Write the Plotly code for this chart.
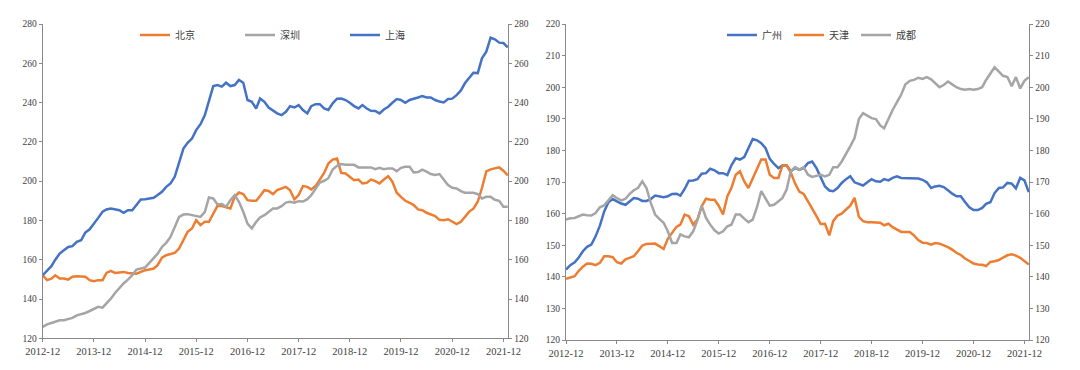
import pandas as pd
import plotly.graph_objects as go

# ---------------- data ----------------
months = pd.date_range("2012-12-01", periods=110, freq="MS")
tick_labels = ["2012-12", "2013-12", "2014-12", "2015-12", "2016-12",
               "2017-12", "2018-12", "2019-12", "2020-12", "2021-12"]

beijing = [152.1, 149.6, 150.4, 152.1, 150.4, 150.4, 149.9, 151.3, 151.6, 151.6,
           151.3, 149.6, 149.1, 149.6, 149.6, 153.3, 154.3, 153.3, 153.5, 153.8,
           153.3, 152.9, 152.9, 153.8, 154.6, 155.0, 155.5, 157.2, 161.1, 162.3,
           162.8, 163.5, 165.7, 169.9, 174.2, 175.9, 180.1, 177.6, 179.3, 179.3,
           183.2, 187.4, 187.3, 186.9, 186.1, 192.0, 194.2, 193.4, 190.3, 190.0,
           190.0, 192.4, 195.4, 195.0, 193.4, 195.4, 196.3, 197.1, 195.4, 190.7,
           192.9, 197.5, 197.1, 195.8, 197.5, 200.5, 204.2, 209.0, 211.0, 211.5,
           204.2, 203.9, 202.2, 200.5, 200.8, 198.8, 199.2, 200.8, 200.0, 198.8,
           200.8, 202.5, 199.7, 194.1, 192.0, 190.0, 189.0, 187.8, 185.6, 185.2,
           183.9, 183.2, 182.2, 180.3, 180.1, 180.6, 179.5, 178.1, 179.3, 181.5,
           184.5, 186.0, 189.5, 196.5, 205.0, 206.0, 206.5, 207.0, 205.3, 203.0]

shenzhen = [125.8, 127.1, 127.8, 128.3, 129.2, 129.2, 130.0, 130.4, 131.7, 132.2,
            132.9, 133.9, 135.1, 136.0, 135.6, 137.7, 140.2, 143.1, 145.8, 147.9,
            149.9, 152.1, 155.0, 155.5, 156.0, 158.4, 160.6, 163.1, 166.5, 168.6,
            171.6, 176.4, 181.8, 183.0, 183.2, 182.7, 182.2, 181.8, 184.4, 191.7,
            191.2, 188.1, 188.3, 186.9, 190.3, 192.9, 189.5, 184.4, 178.4, 175.9,
            179.3, 181.5, 182.7, 184.4, 186.1, 186.1, 187.3, 189.1, 189.5, 189.0,
            189.8, 189.6, 190.8, 192.9, 196.3, 199.3, 200.2, 201.5, 205.9, 207.8,
            208.7, 208.3, 208.3, 208.3, 207.0, 207.0, 207.0, 207.0, 206.1, 206.8,
            206.1, 206.5, 206.5, 205.1, 206.8, 207.3, 207.3, 204.4, 204.6, 205.9,
            204.8, 203.6, 203.1, 203.6, 200.8, 198.0, 196.6, 196.3, 194.9, 194.1,
            194.1, 194.1, 193.4, 191.2, 192.0, 192.0, 190.5, 190.0, 187.0, 187.0]

shanghai = [152.1, 154.3, 156.7, 160.0, 163.1, 164.8, 166.5, 166.9, 169.1, 169.9,
            173.8, 175.5, 178.1, 181.3, 184.4, 185.6, 186.1, 185.6, 185.2, 183.9,
            185.2, 185.2, 187.8, 190.7, 190.8, 191.2, 191.5, 192.9, 194.6, 197.1,
            198.8, 202.2, 209.0, 216.6, 219.5, 221.7, 226.0, 229.0, 233.6, 240.4,
            248.4, 248.9, 248.1, 250.1, 248.4, 248.9, 251.5, 250.1, 241.3, 240.4,
            237.0, 242.1, 240.4, 237.5, 235.8, 234.5, 233.6, 235.3, 238.2, 237.5,
            238.7, 236.2, 234.5, 238.2, 239.2, 239.2, 237.0, 236.2, 239.6, 242.0,
            242.1, 241.3, 239.9, 238.2, 237.0, 238.7, 237.0, 235.8, 235.7, 234.5,
            236.5, 237.9, 239.9, 241.8, 241.3, 239.9, 241.3, 241.8, 242.6, 243.3,
            242.6, 242.6, 241.3, 240.5, 240.1, 241.8, 242.0, 243.8, 246.2, 249.8,
            252.3, 255.2, 255.0, 262.5, 265.9, 273.0, 272.2, 270.5, 270.3, 268.1]

guangzhou = [142.3, 143.7, 144.6, 146.0, 148.1, 149.5, 150.2, 152.8, 156.2, 160.7,
             163.6, 164.6, 163.9, 163.2, 162.8, 163.7, 164.9, 164.7, 164.0, 164.0,
             164.6, 165.7, 165.5, 165.2, 165.5, 166.2, 166.3, 165.7, 167.8, 170.4,
             170.5, 170.9, 172.6, 172.8, 174.2, 173.7, 172.8, 172.8, 172.2, 175.3,
             177.5, 177.1, 177.9, 180.7, 183.6, 183.2, 182.3, 180.7, 177.3, 175.7,
             174.4, 175.2, 175.2, 173.4, 174.4, 173.9, 174.4, 176.0, 176.5, 174.4,
             171.3, 168.6, 167.3, 167.1, 168.1, 169.7, 170.9, 171.8, 169.9, 169.4,
             168.9, 169.9, 170.9, 170.2, 170.1, 170.9, 170.5, 171.3, 171.8, 171.3,
             171.2, 171.1, 171.2, 171.1, 170.7, 169.9, 168.1, 168.6, 168.8, 168.4,
             167.4, 166.3, 165.5, 165.5, 163.7, 162.0, 161.1, 161.1, 161.8, 163.1,
             163.6, 166.5, 168.1, 168.3, 169.7, 169.5, 168.0, 171.3, 170.5, 166.8]

tianjin = [139.4, 139.7, 140.2, 141.8, 143.2, 144.2, 144.1, 143.7, 144.4, 146.5,
           146.5, 146.2, 144.6, 144.2, 145.5, 146.0, 146.5, 148.1, 149.9, 150.4,
           150.5, 150.5, 149.7, 148.8, 152.0, 153.9, 155.8, 156.5, 159.7, 159.2,
           156.5, 158.1, 162.3, 164.7, 164.4, 164.4, 162.5, 159.7, 165.5, 168.1,
           172.3, 173.4, 170.2, 168.1, 171.1, 173.7, 177.1, 177.1, 172.3, 171.3,
           171.3, 175.2, 175.3, 173.0, 169.5, 167.0, 166.2, 163.9, 161.8, 159.2,
           156.7, 156.8, 153.1, 157.6, 159.4, 160.0, 161.3, 162.5, 165.0, 159.0,
           157.6, 157.3, 157.3, 157.3, 157.1, 156.3, 156.8, 155.7, 154.9, 154.2,
           154.2, 154.2, 153.1, 151.6, 150.8, 150.7, 150.2, 150.7, 150.5, 150.0,
           149.4, 148.6, 147.6, 146.9, 145.8, 145.0, 144.2, 143.9, 143.8, 143.4,
           144.7, 144.9, 145.3, 146.1, 146.8, 147.1, 146.7, 146.0, 144.9, 143.9]

chengdu = [158.1, 158.5, 158.6, 159.2, 159.7, 159.5, 159.4, 160.2, 162.0, 162.6,
           164.1, 165.8, 164.9, 164.2, 164.7, 166.2, 167.4, 168.1, 170.2, 168.1,
           163.4, 159.7, 158.3, 157.1, 154.4, 150.7, 150.7, 153.4, 152.8, 152.5,
           154.4, 157.9, 162.5, 158.6, 156.5, 154.7, 153.7, 154.4, 156.0, 156.5,
           159.7, 159.7, 158.4, 157.3, 158.1, 162.1, 167.1, 164.9, 162.5, 162.8,
           163.9, 164.9, 167.6, 173.4, 174.7, 173.9, 174.7, 172.3, 171.6, 172.0,
           172.3, 171.8, 172.3, 174.7, 174.7, 176.5, 179.2, 181.3, 183.9, 189.9,
           191.8, 190.9, 190.2, 189.9, 187.9, 187.0, 190.2, 192.8, 195.3, 197.6,
           200.9, 202.0, 202.3, 203.0, 202.6, 203.2, 202.5, 201.3, 200.0, 200.7,
           201.8, 200.9, 200.0, 199.4, 199.2, 199.4, 199.2, 199.4, 200.0, 202.3,
           204.5, 206.3, 204.9, 203.6, 203.2, 200.3, 203.2, 199.6, 202.0, 203.2]

left_ticks = [120, 140, 160, 180, 200, 220, 240, 260, 280]
right_ticks = [120, 130, 140, 150, 160, 170, 180, 190, 200, 210, 220]

# ---------------- style ----------------
BLUE = "#4472C4"
ORANGE = "#ED7D31"
GRAY = "#A5A5A5"
AXIS = "#898989"
TXT = "#404040"
OFF = 8            # page body margin of the html page
W = 1080 - OFF
H = 370 - OFF
LW = 2.5

fig = go.Figure()


def add(y, name, color, xa, ya, leg):
    fig.add_trace(go.Scatter(x=months, y=y, name=name, mode="lines",
                             line=dict(color=color, width=LW),
                             xaxis=xa, yaxis=ya, legend=leg, hoverinfo="skip"))


add(beijing, "北京", ORANGE, "x", "y", "legend")
add(shenzhen, "深圳", GRAY, "x", "y", "legend")
add(shanghai, "上海", BLUE, "x", "y", "legend")
add(guangzhou, "广州", BLUE, "x2", "y2", "legend2")
add(tianjin, "天津", ORANGE, "x2", "y2", "legend2")
add(chengdu, "成都", GRAY, "x2", "y2", "legend2")

xtick_font = dict(family="Liberation Serif", size=10.5, color=TXT)
ytick_font = dict(family="Liberation Serif", size=9.5, color=TXT)
tick_dates = [f"{t}-01" for t in tick_labels]
xrange = ["2012-12-01", "2022-01-05"]

xcommon = dict(type="date", range=xrange, tickmode="array", tickvals=tick_dates,
               ticktext=tick_labels, showline=True, linecolor=AXIS, linewidth=1,
               ticks="outside", ticklen=3, tickcolor=AXIS, tickwidth=1,
               showgrid=False, zeroline=False, tickfont=xtick_font, automargin=False,
               fixedrange=True)


def ycommon(rng, vals):
    return dict(range=rng, tickmode="array", tickvals=vals, showline=True,
                linecolor=AXIS, linewidth=1, ticks="outside", ticklen=3,
                tickcolor=AXIS, tickwidth=1, showgrid=False, zeroline=False,
                tickfont=ytick_font, automargin=False, fixedrange=True)


def px(v):
    return (v - OFF) / W


def py(v):
    return 1 - (v - OFF) / H


legend_font = dict(family="Noto Sans CJK SC", size=10, color=TXT)

fig.update_layout(
    width=W, height=H,
    margin=dict(l=0, r=0, t=0, b=0),
    paper_bgcolor="white", plot_bgcolor="white",
    showlegend=True,
    xaxis=dict(domain=[px(42.7), px(508.3)], anchor="y", **xcommon),
    yaxis=dict(domain=[py(338.3), py(24)], anchor="x", side="left",
               **ycommon([120, 280], left_ticks)),
    yaxis3=dict(overlaying="y", anchor="x", side="right",
                **ycommon([120, 280], left_ticks)),
    xaxis2=dict(domain=[px(566), px(1029.3)], anchor="y2", **xcommon),
    yaxis2=dict(domain=[py(340), py(24)], anchor="x2", side="left",
                **ycommon([120, 220], right_ticks)),
    yaxis4=dict(overlaying="y2", anchor="x2", side="right",
                **ycommon([120, 220], right_ticks)),
    legend=dict(orientation="h", x=127 / W, xanchor="left", y=1 - 27 / H,
                yanchor="middle", font=legend_font, bgcolor="rgba(0,0,0,0)",
                entrywidth=60, entrywidthmode="pixels", itemwidth=30,
                tracegroupgap=0),
    legend2=dict(orientation="h", x=714 / W, xanchor="left", y=1 - 27 / H,
                 yanchor="middle", font=legend_font, bgcolor="rgba(0,0,0,0)",
                 entrywidth=22, entrywidthmode="pixels", itemwidth=30,
                 tracegroupgap=0),
)

# invisible helper traces so the right-hand axes are drawn with their ranges
fig.add_trace(go.Scatter(x=[months[0]], y=[left_ticks[0]], xaxis="x", yaxis="y3",
                         mode="markers", marker=dict(opacity=0), showlegend=False,
                         hoverinfo="skip"))
fig.add_trace(go.Scatter(x=[months[0]], y=[right_ticks[0]], xaxis="x2", yaxis="y4",
                         mode="markers", marker=dict(opacity=0), showlegend=False,
                         hoverinfo="skip"))

fig.write_html("out.html", config=dict(displayModeBar=False))
